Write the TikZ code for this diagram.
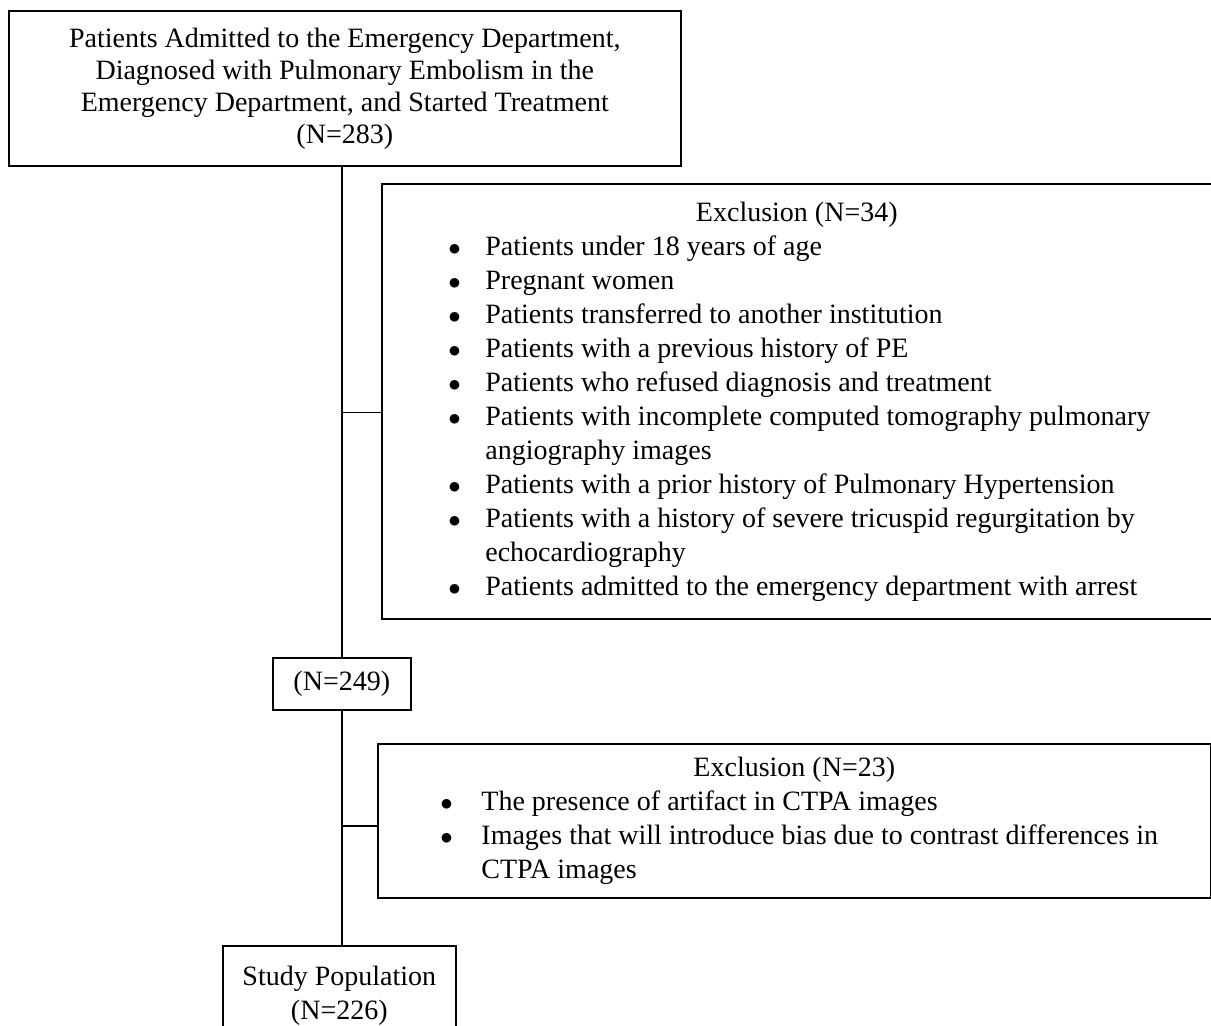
\documentclass[tikz,border=0pt]{standalone}
\usepackage{fontspec}
\setmainfont{Liberation Serif}
\usetikzlibrary{positioning}

\newcommand{\bul}{$\bullet$}

\begin{document}
\begin{tikzpicture}[x = 1pt, y = -1pt, line width = 1.6pt,
  box/.style = {draw, anchor = north west, inner sep = 0pt, align = center,
                font = \fontsize{28}{34}\selectfont}]
\useasboundingbox (0,0) rectangle (1211,1026);
\clip (0,0) rectangle (1211,1026);

\node [box, minimum width = 672, minimum height = 155, font = \fontsize{28}{32}\selectfont] (admitted) at (8,10)
	{Patients Admitted to the Emergency Department,\\
	 Diagnosed with Pulmonary Embolism in the\\
	 Emergency Department, and Started Treatment\\
	 (N=283)};

\node [box, minimum width = 830, minimum height = 435] (excl1) at (381,183)
	{\begin{tabular}{@{\hspace{5pt}}p{37pt}@{}l@{}}
	 \multicolumn{2}{@{}c@{}}{Exclusion (N=34)}\\
	 \bul & Patients under 18 years of age\\
	 \bul & Pregnant women\\
	 \bul & Patients transferred to another institution\\
	 \bul & Patients with a previous history of PE\\
	 \bul & Patients who refused diagnosis and treatment\\
	 \bul & Patients with incomplete computed tomography pulmonary\\
	      & angiography images\\
	 \bul & Patients with a prior history of Pulmonary Hypertension\\
	 \bul & Patients with a history of severe tricuspid regurgitation by\\
	      & echocardiography\\
	 \bul & Patients admitted to the emergency department with arrest
	 \end{tabular}};

\node [box, minimum width = 138, minimum height = 52] (remaining) at (272,657) {(N=249)};

\node [box, minimum width = 833, minimum height = 154] (excl2) at (377,743)
	{\begin{tabular}{@{\hspace{10pt}}p{41pt}@{}l@{}}
	 \multicolumn{2}{@{}c@{}}{Exclusion (N=23)}\\
	 \bul & The presence of artifact in CTPA images\\
	 \bul & Images that will introduce bias due to contrast differences in\\
	      & CTPA images
	 \end{tabular}};

\node [box, minimum width = 233, minimum height = 100] (study) at (222,945)
	{Study Population\\ (N=226)};

\draw (remaining.north |- admitted.south) -- (remaining.north);
\draw ([yshift = -11pt] excl1.west) -- ([yshift = -11pt] excl1.west -| remaining.north);
\draw (remaining.south) -- (remaining.south |- study.north);
\draw ([yshift = -5pt] excl2.west) -- ([yshift = -5pt] excl2.west -| remaining.south);

\end{tikzpicture}
\end{document}
